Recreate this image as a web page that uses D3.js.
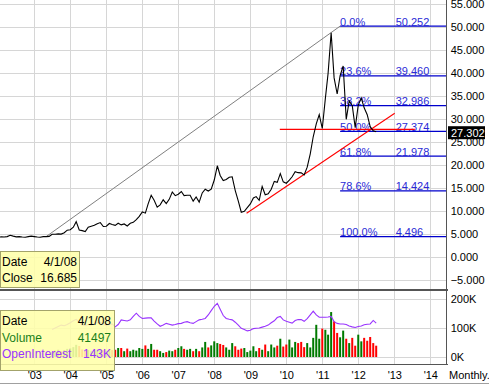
<!DOCTYPE html>
<html>
<head>
<meta charset="utf-8">
<script src="https://cdn.jsdelivr.net/npm/d3@7"></script>
<style>
  body { margin:0; background:#fff; }
  svg { display:block; font-family:"Liberation Sans", Arial, sans-serif; }
  .grid { stroke:#d6d6d6; stroke-width:1; shape-rendering:crispEdges; }
  .frame { stroke:#555; shape-rendering:crispEdges; }
  .axis text { font-size:11px; fill:#000; }
  .axis path, .axis line { display:none; }
  .fib { stroke:#0000cc; stroke-width:1.3; }
  .fibtxt { font-size:11px; fill:#2a2ad6; }
  .legend rect { fill:#ffffaa; stroke:#a3a36b; fill-opacity:.88; }
  .legend text { font-size:12px; }
</style>
</head>
<body>
<script>
// monthly closes, Jan 2002 .. Jul 2012
var priceStart = "2002-01-01";
var closes = [
  4.35, 4.45, 4.40, 4.50, 4.80, 4.60, 4.45, 4.50, 4.40, 4.35, 4.50, 4.60,      // 2002
  4.50, 4.40, 4.35, 4.50, 4.496, 4.55, 5.00, 5.00, 5.10, 5.05, 5.35, 5.90,     // 2003
  6.00, 6.55, 7.75, 5.95, 5.80, 5.60, 6.55, 6.75, 6.95, 7.30, 7.55, 6.70,      // 2004
  6.75, 7.35, 7.15, 6.95, 7.40, 7.05, 7.25, 6.80, 7.40, 7.60, 8.20, 8.90,      // 2005
  9.85, 9.60, 11.60, 13.50, 12.40, 10.90, 11.40, 12.50, 11.70, 12.60, 14.20, 13.40, // 2006
  13.70, 14.30, 13.40, 13.50, 13.50, 12.20, 13.10, 12.00, 14.00, 14.80, 14.40, 14.80, // 2007
  16.80, 19.90, 17.80, 16.685, 16.90, 17.40, 17.50, 14.50, 12.20, 9.80, 10.00, 10.80, // 2008
  11.60, 12.90, 13.20, 12.40, 15.40, 13.60, 13.80, 14.80, 16.50, 16.30, 18.20, 16.40, // 2009
  16.10, 16.80, 17.50, 18.60, 18.40, 18.35, 17.90, 19.60, 22.50, 26.20, 29.00, 31.00, // 2010
  28.00, 34.50, 40.00, 48.80, 39.00, 35.50, 39.50, 41.60, 30.00, 34.00, 33.00, 28.20, // 2011
  33.10, 34.60, 32.50, 31.00, 28.40, 27.50, 27.302                               // 2012
];

// volume and open interest (thousands), Jul 2003 .. Jul 2012
var flowStart = "2003-07-01";
var volumes = [
  18, 22, 25, 20, 24, 28,
  30, 34, 42, 38, 26, 22, 24, 20, 22, 25, 28, 24,
  22, 26, 24, 25, 31, 31, 20, 29, 20, 25, 22, 31,
  28, 40, 28, 45, 25, 25, 20, 14, 17, 22, 20, 25,
  31, 37, 28, 25, 28, 20, 28, 20, 33, 52, 33, 40,
  54, 48, 45, 41.5, 33, 25, 48, 37, 25, 29, 31, 17,
  22, 37, 20, 31, 25, 43, 20, 43, 33, 39, 63, 36,
  43, 60, 33, 52, 48, 52, 34, 48, 33, 66, 111, 63,
  98, 94, 77, 155, 123, 83, 68, 91, 63, 48, 66, 39,
  77, 54, 66, 56, 69, 48, 39
];
var openInterest = [
  95, 100, 105, 110, 108, 112,
  118, 125, 130, 120, 110, 108, 112, 110, 115, 118, 120, 112,
  110, 112, 114, 104, 112, 128, 126, 124, 128, 140, 151, 140,
  133, 134, 135, 135, 124, 114, 106, 110, 116, 113, 110, 112,
  115, 116, 120, 122, 118, 116, 122, 128, 130, 133, 145, 160,
  175, 185, 165, 143, 133, 130, 128, 120, 110, 99, 95, 90,
  92, 98, 99, 100, 103, 106, 110, 118, 125, 136, 140, 128,
  123, 120, 117, 126, 129, 129, 123, 132, 145, 158, 145, 137,
  137, 137, 138, 140, 122, 116, 114, 114, 112, 107, 104, 102,
  105, 107, 111, 113, 114, 126, 117
];

// fibonacci retracement drawn from the 2003 low to the 2011 high
var fibFrom = "2011-07-01";
var fibLabels = ["0.0%", "23.6%", "38.2%", "50.0%", "61.8%", "78.6%", "100.0%"];
var fibValues = [50.252, 39.460, 32.986, 27.374, 21.978, 14.424, 4.496];
var fibBase = [["2003-05-01", 4.496], ["2011-07-01", 50.252]];
var supportLine = [["2008-11-24", 9.57], ["2013-01-05", 31.3]];
var levelLine = [["2009-10-27", 27.8], ["2013-07-28", 27.8]];

var priceTicks = [-5, 0, 5, 10, 15, 20, 25, 30, 35, 40, 45, 50, 55];
var volTicks = [0, 100, 200];
var yearTicks = [2003, 2004, 2005, 2006, 2007, 2008, 2009, 2010, 2011, 2012, 2013, 2014];
var legendDate = "4/1/08", legendClose = "16.685", legendVol = "41497", legendOI = "143K";
var lastClose = "27.302";

var W = 489, H = 384, axisX = 446.7;
var parse = d3.timeParse("%Y-%m-%d");

var prices = closes.map(function(c, i) {
  return { date: d3.timeMonth.offset(parse(priceStart), i), close: c };
});
var flows = volumes.map(function(v, i) {
  var d = d3.timeMonth.offset(parse(flowStart), i);
  var p = prices.find(function(q) { return +q.date === +d; });
  var idx = prices.indexOf(p);
  return { date: d, vol: v, oi: openInterest[i], up: idx > 0 && p.close >= prices[idx - 1].close };
});

var x = d3.scaleTime().domain([new Date(2003, 0, 1), new Date(2014, 0, 1)]).range([34.3, 430.3]);
var y = d3.scaleLinear().domain([-5, 55]).range([280.3, 4.3]);
var yv = d3.scaleLinear().domain([0, 200]).range([357, 299]);

var svg = d3.select("body").append("svg").attr("width", W).attr("height", H);

// gridlines
svg.append("g").selectAll("line").data(yearTicks).enter().append("line")
  .attr("class", "grid")
  .attr("x1", function(d) { return Math.round(x(new Date(d, 0, 1))) + 0.5; })
  .attr("x2", function(d) { return Math.round(x(new Date(d, 0, 1))) + 0.5; })
  .attr("y1", 0).attr("y2", 364);
svg.append("g").selectAll("line").data(priceTicks).enter().append("line")
  .attr("class", "grid")
  .attr("x1", 0).attr("x2", axisX)
  .attr("y1", function(d) { return Math.round(y(d)) + 0.5; })
  .attr("y2", function(d) { return Math.round(y(d)) + 0.5; });
svg.append("g").selectAll("line").data(volTicks).enter().append("line")
  .attr("class", "grid")
  .attr("x1", 0).attr("x2", axisX)
  .attr("y1", function(d) { return Math.round(yv(d)) + 0.5; })
  .attr("y2", function(d) { return Math.round(yv(d)) + 0.5; });

// main panel
var main = svg.append("g");
main.append("clipPath").attr("id", "clipMain").append("rect")
  .attr("x", 0).attr("y", 0).attr("width", axisX).attr("height", 289);

var pt = function(p) { return [x(parse(p[0])), y(p[1])]; };

main.append("path").datum(fibBase.map(pt))
  .attr("d", d3.line()).attr("fill", "none").attr("stroke", "#808080").attr("stroke-width", 1);

fibValues.forEach(function(v, i) {
  main.append("line").attr("class", "fib")
    .attr("x1", x(parse(fibFrom))).attr("x2", axisX)
    .attr("y1", y(v)).attr("y2", y(v));
  main.append("text").attr("class", "fibtxt")
    .attr("x", x(parse(fibFrom))).attr("y", y(v) - 0.5).text(fibLabels[i]);
  main.append("text").attr("class", "fibtxt")
    .attr("x", 395.7).attr("y", y(v) - 0.5).text(d3.format(".3f")(v));
});

main.append("path").datum(supportLine.map(pt))
  .attr("d", d3.line()).attr("fill", "none").attr("stroke", "#ff0000").attr("stroke-width", 1.1);
main.append("path").datum(levelLine.map(pt))
  .attr("d", d3.line()).attr("fill", "none").attr("stroke", "#ff0000").attr("stroke-width", 1.4);

main.append("path").datum(prices)
  .attr("clip-path", "url(#clipMain)")
  .attr("d", d3.line().x(function(d) { return x(d.date); }).y(function(d) { return y(d.close); }))
  .attr("fill", "none").attr("stroke", "#000").attr("stroke-width", 1.1);

// volume panel
svg.append("g").selectAll("rect").data(flows).enter().append("rect")
  .attr("x", function(d) { return x(d.date) - 1; })
  .attr("width", 2)
  .attr("y", function(d) { return yv(d.vol); })
  .attr("height", function(d) { return yv(0) - yv(d.vol); })
  .attr("fill", function(d) { return d.up ? "#007a00" : "#ff0000"; });
svg.append("path").datum(flows)
  .attr("d", d3.line().x(function(d) { return x(d.date); }).y(function(d) { return yv(d.oi); }))
  .attr("fill", "none").attr("stroke", "#9933ff").attr("stroke-width", 1.1);

// frame
svg.append("line").attr("class", "frame").attr("x1", 0).attr("x2", axisX + 1).attr("y1", 289.5).attr("y2", 289.5).attr("stroke-width", 2);
svg.append("line").attr("class", "frame").attr("x1", 0).attr("x2", axisX + 1).attr("y1", 364.5).attr("y2", 364.5).attr("stroke-width", 1.5);
svg.append("line").attr("class", "frame").attr("x1", axisX).attr("x2", axisX).attr("y1", 0).attr("y2", 365).attr("stroke-width", 1.5);
svg.append("line").attr("x1", 0).attr("x2", W).attr("y1", 383.5).attr("y2", 383.5).attr("stroke", "#a0a0a0");

// axes
svg.append("g").attr("class", "axis").attr("transform", "translate(" + axisX + ",0)")
  .call(d3.axisRight(y).tickValues(priceTicks).tickSize(0).tickPadding(4).tickFormat(d3.format(".3f")));
svg.append("g").attr("class", "axis").attr("transform", "translate(" + axisX + ",0)")
  .call(d3.axisRight(yv).tickValues(volTicks).tickSize(0).tickPadding(4).tickFormat(function(d) { return d + "K"; }));
svg.append("g").attr("class", "axis").attr("transform", "translate(0,367)")
  .call(d3.axisBottom(x).tickValues(yearTicks.map(function(d) { return new Date(d, 0, 1); }))
    .tickSize(0).tickPadding(4).tickFormat(d3.timeFormat("'%y")));
svg.append("text").attr("x", 449).attr("y", 379).style("font-size", "11px").text("Monthly.");

// last price tag
var tagY = y(+lastClose) + 1;
svg.append("rect").attr("x", 448).attr("y", tagY - 6.5).attr("width", 37).attr("height", 13).attr("fill", "#000");
svg.append("text").attr("x", 451).attr("y", tagY + 4).attr("fill", "#fff").style("font-size", "11px").text(lastClose);

// legends
var lg1 = svg.append("g").attr("class", "legend");
lg1.append("rect").attr("x", 0.5).attr("y", 251.5).attr("width", 79).attr("height", 36);
lg1.append("text").attr("x", 2).attr("y", 266).text("Date");
lg1.append("text").attr("x", 77).attr("y", 266).attr("text-anchor", "end").text(legendDate);
lg1.append("text").attr("x", 2).attr("y", 282).text("Close");
lg1.append("text").attr("x", 77).attr("y", 282).attr("text-anchor", "end").text(legendClose);

var lg2 = svg.append("g").attr("class", "legend");
lg2.append("rect").attr("x", 0.5).attr("y", 310.5).attr("width", 114).attr("height", 60);
lg2.append("text").attr("x", 2).attr("y", 325).text("Date");
lg2.append("text").attr("x", 111).attr("y", 325).attr("text-anchor", "end").text(legendDate);
lg2.append("text").attr("x", 2).attr("y", 341.7).attr("fill", "#1a7f1a").text("Volume");
lg2.append("text").attr("x", 111).attr("y", 341.7).attr("text-anchor", "end").attr("fill", "#1a7f1a").text(legendVol);
lg2.append("text").attr("x", 2).attr("y", 357.7).attr("fill", "#9933ff").text("OpenInterest");
lg2.append("text").attr("x", 111).attr("y", 357.7).attr("text-anchor", "end").attr("fill", "#9933ff").text(legendOI);
</script>
</body>
</html>
